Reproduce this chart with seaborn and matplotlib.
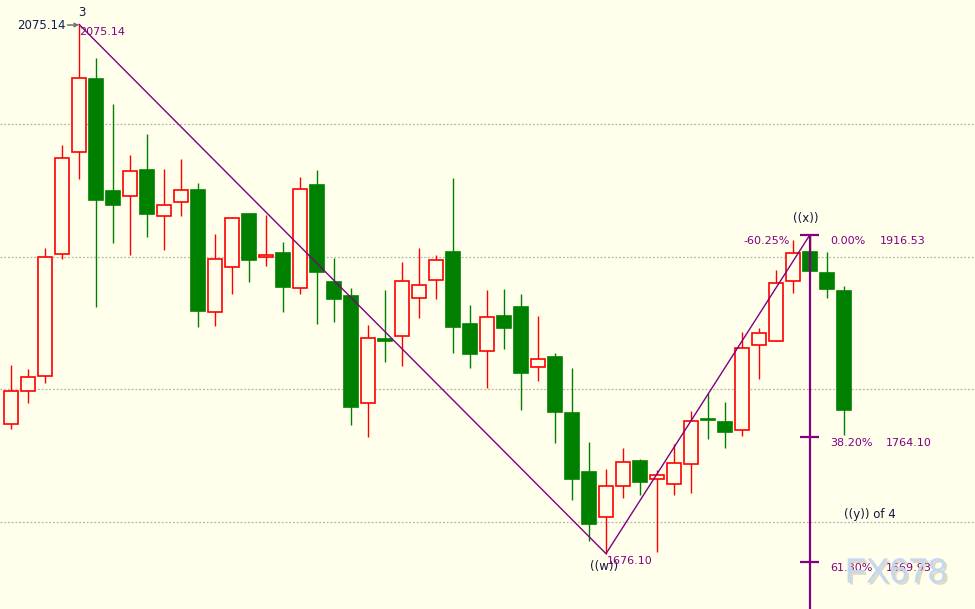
import matplotlib
matplotlib.use("Agg")
import numpy as np
import pandas as pd
import matplotlib.pyplot as plt
import matplotlib.patheffects as pe
import seaborn as sns

# daily OHLC, left to right
opens = [1773.6, 1798.7, 1810.0, 1902.0, 1978.7, 2033.9, 1949.5, 1945.5, 1965.3, 1930.4,
         1941.0, 1950.3, 1858.1, 1892.0, 1932.2, 1899.5, 1902.8, 1876.2, 1954.0, 1880.9,
         1870.3, 1789.5, 1837.7, 1840.0, 1868.6, 1882.2, 1903.5, 1849.2, 1828.7, 1855.3,
         1862.1, 1816.6, 1824.4, 1782.2, 1737.7, 1703.5, 1726.9, 1745.7, 1732.2, 1728.4,
         1743.5, 1777.6, 1775.1, 1769.1, 1833.2, 1836.2, 1881.4, 1903.5, 1887.7, 1874.1]
highs = [1818.3, 1815.1, 1906.3, 1983.9, 2075.14, 2049.8, 2015.1, 1976.6, 1992.5, 1966.1,
         1973.6, 1955.5, 1917.1, 1929.7, 1932.9, 1931.4, 1911.1, 1960.1, 1965.3, 1899.2,
         1876.6, 1848.5, 1874.9, 1896.0, 1906.5, 1901.3, 1959.3, 1863.6, 1874.9, 1875.6,
         1871.9, 1855.3, 1827.4, 1816.1, 1760.3, 1739.9, 1755.8, 1747.5, 1739.2, 1758.6,
         1783.4, 1797.4, 1790.4, 1843.2, 1846.2, 1889.9, 1912.6, 1916.53, 1903.5, 1877.9]
lows = [1770.1, 1789.5, 1804.5, 1898.2, 1958.8, 1861.8, 1910.5, 1901.3, 1915.1, 1905.3,
        1930.9, 1847.2, 1848.0, 1872.1, 1881.1, 1893.2, 1858.5, 1872.1, 1849.5, 1851.0,
        1773.1, 1763.8, 1820.8, 1817.8, 1854.0, 1868.3, 1827.6, 1816.3, 1801.0, 1830.6,
        1784.6, 1806.5, 1759.8, 1716.8, 1685.9, 1676.10, 1718.3, 1720.6, 1677.6, 1720.6,
        1722.1, 1762.3, 1756.0, 1765.0, 1808.0, 1836.2, 1872.4, 1888.4, 1869.1, 1765.8]
closes = [1798.7, 1809.1, 1900.0, 1974.1, 2034.4, 1942.9, 1939.2, 1964.3, 1932.4, 1938.7,
          1950.0, 1859.3, 1898.0, 1928.9, 1897.7, 1901.0, 1877.4, 1950.8, 1888.7, 1868.3,
          1786.9, 1838.5, 1836.7, 1881.4, 1878.4, 1897.3, 1847.2, 1826.9, 1854.3, 1846.5,
          1812.5, 1822.6, 1783.1, 1732.6, 1698.7, 1726.9, 1745.0, 1730.4, 1735.2, 1744.2,
          1775.9, 1777.2, 1768.1, 1830.9, 1842.2, 1879.9, 1902.5, 1889.4, 1875.9, 1784.6]

# elliott wave swing points: (bar index, price)
wave_idx = [4, 35, 47]
wave_price = [2075.14, 1676.10, 1916.53]

# fibonacci retracement levels of the last swing
fib_levels = [1916.53, 1764.10, 1669.93]
fib_pct = ["0.00%", "38.20%", "61.80%"]
fib_text = ["1916.53", "1764.10", "1669.93"]

grid_levels = [1700, 1800, 1900, 2000]

BG = "#ffffec"
RED = "#ff0000"
GREEN = "#008000"
PURPLE = "#800080"
DARK = "#14143c"

sns.set_theme(style="white")
plt.rcParams["font.family"] = ["DejaVu Sans"]

df = pd.DataFrame({"open": opens, "high": highs, "low": lows, "close": closes})
df["idx"] = np.arange(len(df))
df["up"] = df["close"] >= df["open"]
df["bottom"] = df[["open", "close"]].min(axis=1)
df["height"] = (df["close"] - df["open"]).abs().clip(lower=0.4)

fig = plt.figure(figsize=(9.75, 6.09), dpi=100)
fig.patch.set_facecolor(BG)
ax = fig.add_axes([0, 0, 1, 1])
ax.set_facecolor(BG)

for lv in grid_levels:
    ax.axhline(lv, color="#b4b4b4", lw=0.9, ls=(0, (1.5, 1.5)), zorder=0)

colors = np.where(df["up"], RED, GREEN)
ax.vlines(df["idx"], df["low"], df["high"], colors=colors, lw=1.0, zorder=2)
ax.bar(df["idx"], df["height"], bottom=df["bottom"], width=0.8,
       color=np.where(df["up"], BG, GREEN), edgecolor=colors, lw=1.2, zorder=3)

wave = pd.DataFrame({"x": wave_idx, "y": wave_price})
sns.lineplot(data=wave, x="x", y="y", sort=False, color=PURPLE, lw=1.0, ax=ax, zorder=4)

# fib tool
ymin, ymax = 1634.4, 2093.47
fx = 47
ax.vlines(fx, ymin, fib_levels[0], color=PURPLE, lw=1.6, zorder=5)
ax.hlines(fib_levels, fx - 0.59, fx + 0.53, color=PURPLE, lw=1.6, zorder=5)
for lv, pct, txt in zip(fib_levels, fib_pct, fib_text):
    ax.text(48.18, lv - 4.5, pct, color=PURPLE, fontsize=8, va="center", ha="left", zorder=6)
    ax.text(51.12 if pct == "0.00%" else 51.47, lv - 4.5, txt, color=PURPLE,
            fontsize=8, va="center", ha="left", zorder=6)
ax.text(45.82, 1911.8, "-60.25%", color=PURPLE, fontsize=8, va="center", ha="right", zorder=6)

# wave labels
ax.text(4.18, 2084.4, "3", color=DARK, fontsize=8.5, ha="center", va="center")
ax.text(3.24, 2074.6, "2075.14", color="#0a1e50", fontsize=8.5, ha="right", va="center")
ax.annotate("", xy=(4.0, 2074.6), xytext=(3.33, 2074.6),
            arrowprops=dict(arrowstyle="->", color="#6e6e6e", lw=1.1, mutation_scale=6,
                            shrinkA=0, shrinkB=0))
ax.text(4.0, 2069.3, "2075.14", color=PURPLE, fontsize=8, ha="left", va="center")
ax.text(46.76, 1928.4, "((x))", color=DARK, fontsize=8.5, ha="center", va="center")
ax.text(34.88, 1666.8, "((w))", color=DARK, fontsize=8.5, ha="center", va="center")
ax.text(35.05, 1670.8, "1676.10", color=PURPLE, fontsize=8, ha="left", va="center")
ax.text(49.0, 1705.3, "((y)) of 4", color=DARK, fontsize=8.5, ha="left", va="center")

# watermark
ax.text(52.06, 1661.6, "FX678", color="#c4d8f0", fontsize=25, family="Liberation Sans",
        ha="center", va="center", zorder=8, alpha=0.85,
        path_effects=[pe.withSimplePatchShadow(offset=(1.5, -1.5), shadow_rgbFace="#b8b090", alpha=0.45),
                      pe.Normal()])

ax.set_xlim(-0.647, 56.706)
ax.set_ylim(ymin, ymax)
ax.set_xticks([])
ax.set_yticks([])
ax.set_xlabel("")
ax.set_ylabel("")
for s in ax.spines.values():
    s.set_visible(False)

fig.savefig("out.png", dpi=100, facecolor=BG)
